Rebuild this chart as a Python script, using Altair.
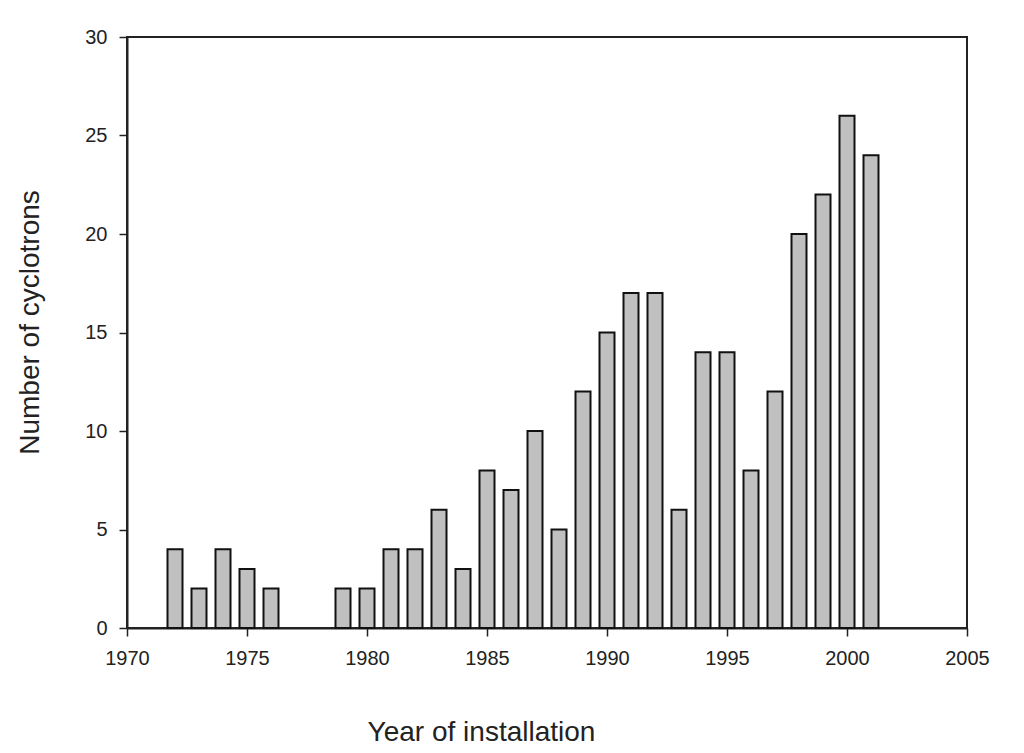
import altair as alt
import pandas as pd

years = [1972, 1973, 1974, 1975, 1976, 1979, 1980, 1981, 1982, 1983, 1984,
         1985, 1986, 1987, 1988, 1989, 1990, 1991, 1992, 1993, 1994, 1995,
         1996, 1997, 1998, 1999, 2000, 2001]
counts = [4, 2, 4, 3, 2, 2, 2, 4, 4, 6, 3,
          8, 7, 10, 5, 12, 15, 17, 17, 6, 14, 14,
          8, 12, 20, 22, 26, 24]
x_ticks = [1970, 1975, 1980, 1985, 1990, 1995, 2000, 2005]
y_ticks = [0, 5, 10, 15, 20, 25, 30]

df = pd.DataFrame({"year": years, "count": counts})

font = "Liberation Sans"

chart = alt.Chart(df).mark_bar(
    size=15, color="#c0c0c0", stroke="#111111", strokeWidth=2
).encode(
    x=alt.X("year:Q", title="Year of installation",
            scale=alt.Scale(domain=[1970, 2005], nice=False, zero=False, padding=0),
            axis=alt.Axis(values=x_ticks, format="d", tickSize=8, labelPadding=12,
                          labelFlush=False, labelOverlap=False,
                          titlePadding=50, titleX=354, grid=False)),
    y=alt.Y("count:Q", title="Number of cyclotrons",
            scale=alt.Scale(domain=[0, 30], nice=False, padding=0),
            axis=alt.Axis(values=y_ticks, tickSize=8, labelPadding=12,
                          labelFlush=False, labelOverlap=False,
                          titlePadding=40, titleY=285, grid=False)),
).properties(
    width=840, height=591,
    padding={"left": 127, "top": 37, "right": 57, "bottom": 125},
    autosize=alt.AutoSizeParams(type="none"),
).configure_view(
    stroke="#222222", strokeWidth=2
).configure_axis(
    domainColor="#222222", domainWidth=2, tickColor="#222222", tickWidth=1.5,
    labelFont=font, labelFontSize=20, labelColor="#222222",
    titleFont=font, titleFontSize=28, titleFontWeight="normal", titleColor="#222222",
)

chart.save("out.html", embed_options={"renderer": "svg", "actions": False})
